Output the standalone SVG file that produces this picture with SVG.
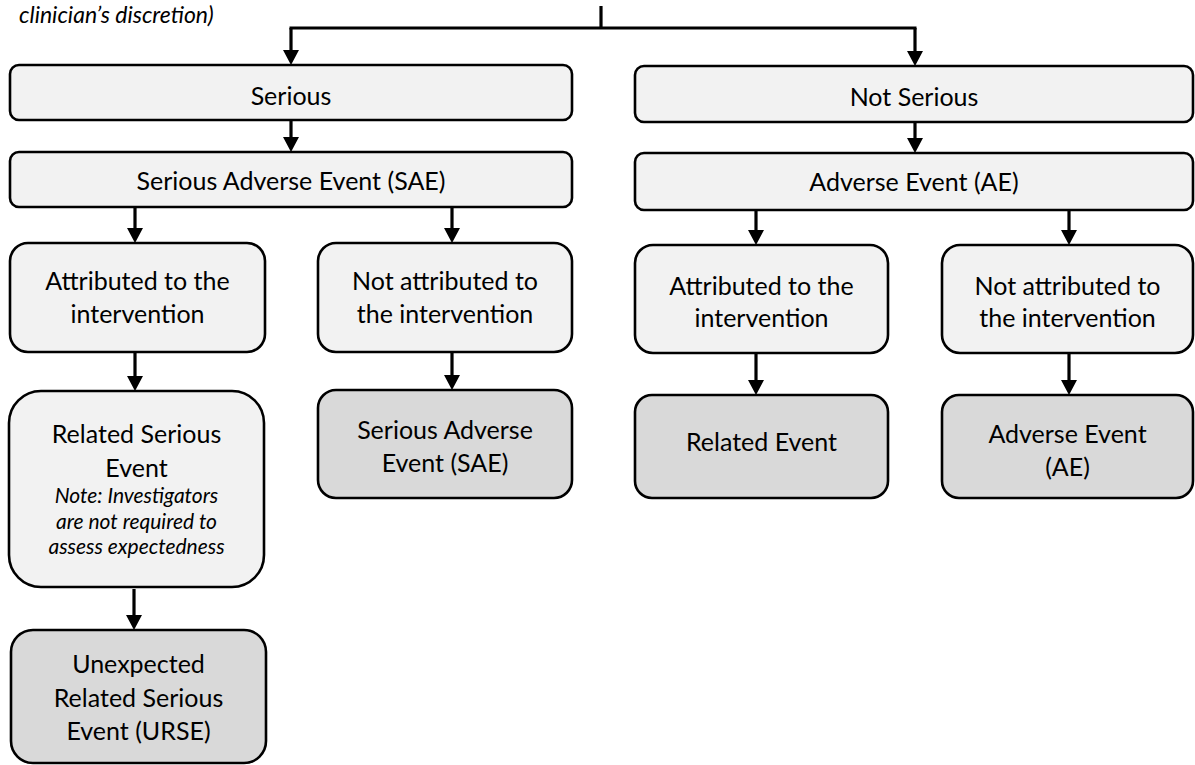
<svg xmlns="http://www.w3.org/2000/svg" width="1195" height="765" viewBox="0 0 1195 765">
<style>
  .box { stroke: #000; stroke-width: 2.6; }
  .light { fill: #f2f2f2; }
  .dark { fill: #d9d9d9; }
  .t { font-family: Lato, "Liberation Sans", sans-serif; font-size: 25px; fill: #000; text-anchor: middle; }
  .n { font-family: Lato, "Liberation Sans", sans-serif; font-size: 21px; font-style: italic; fill: #000; text-anchor: middle; }
  .tl { font-family: Lato, "Liberation Sans", sans-serif; font-size: 23px; font-style: italic; fill: #000; }
  .c { stroke: #000; stroke-width: 3.2; fill: none; }
</style>
<defs>
  <marker id="ah" viewBox="0 -8 15 16" markerWidth="15" markerHeight="16" refX="2" refY="0" orient="auto" markerUnits="userSpaceOnUse">
    <path d="M0,-8 L15,0 L0,8 z" fill="#000"/>
  </marker>
</defs>
<rect width="1195" height="765" fill="#fff"/>
<text class="tl" x="19" y="23">clinician’s discretion)</text>

<g id="connectors">
  <path class="c" d="M601,6 V28"/>
  <path class="c" d="M289.5,28 H916.5"/>
  <path class="c" d="M291,28 V52" marker-end="url(#ah)"/>
  <path class="c" d="M915,28 V53" marker-end="url(#ah)"/>
  <path class="c" d="M291,120 V139" marker-end="url(#ah)"/>
  <path class="c" d="M915,122 V140" marker-end="url(#ah)"/>
  <path class="c" d="M135,207 V230" marker-end="url(#ah)"/>
  <path class="c" d="M452,207 V230" marker-end="url(#ah)"/>
  <path class="c" d="M756,210 V232" marker-end="url(#ah)"/>
  <path class="c" d="M1069,210 V232" marker-end="url(#ah)"/>
  <path class="c" d="M135,352 V378" marker-end="url(#ah)"/>
  <path class="c" d="M452,352 V377" marker-end="url(#ah)"/>
  <path class="c" d="M756,353 V382" marker-end="url(#ah)"/>
  <path class="c" d="M1069,353 V382" marker-end="url(#ah)"/>
  <path class="c" d="M134,589 V617" marker-end="url(#ah)"/>
</g>

<g id="serious">
  <rect class="box light" x="10" y="65" width="562" height="55" rx="9"/>
  <text class="t" x="291" y="105">Serious</text>
</g>
<g id="sae">
  <rect class="box light" x="10" y="152" width="562" height="55" rx="9"/>
  <text class="t" x="291" y="190">Serious Adverse Event (SAE)</text>
</g>
<g id="not-serious">
  <rect class="box light" x="635" y="66" width="558" height="56" rx="9"/>
  <text class="t" x="914" y="106">Not Serious</text>
</g>
<g id="ae">
  <rect class="box light" x="635" y="153" width="558" height="57" rx="9"/>
  <text class="t" x="914" y="191">Adverse Event (AE)</text>
</g>

<g id="attr-left">
  <rect class="box light" x="10" y="243" width="255" height="109" rx="18"/>
  <text class="t" x="137.5" y="290">Attributed to the</text>
  <text class="t" x="137.5" y="323">intervention</text>
</g>
<g id="notattr-left">
  <rect class="box light" x="318" y="243" width="254" height="109" rx="18"/>
  <text class="t" x="445" y="290">Not attributed to</text>
  <text class="t" x="445" y="323">the intervention</text>
</g>
<g id="related-serious">
  <rect class="box light" x="9" y="391" width="255" height="196" rx="32"/>
  <text class="t" x="136.5" y="443">Related Serious</text>
  <text class="t" x="136.5" y="477">Event</text>
  <text class="n" x="136.5" y="503">Note: Investigators</text>
  <text class="n" x="136.5" y="528.5">are not required to</text>
  <text class="n" x="136.5" y="554">assess expectedness</text>
</g>
<g id="sae-final">
  <rect class="box dark" x="318" y="390" width="254" height="108" rx="18"/>
  <text class="t" x="445" y="439">Serious Adverse</text>
  <text class="t" x="445" y="472">Event (SAE)</text>
</g>
<g id="urse">
  <rect class="box dark" x="11" y="630" width="255" height="133" rx="22"/>
  <text class="t" x="138.5" y="673">Unexpected</text>
  <text class="t" x="138.5" y="707">Related Serious</text>
  <text class="t" x="138.5" y="740">Event (URSE)</text>
</g>

<g id="attr-right">
  <rect class="box light" x="635" y="245" width="253" height="108" rx="18"/>
  <text class="t" x="761.5" y="295">Attributed to the</text>
  <text class="t" x="761.5" y="327">intervention</text>
</g>
<g id="notattr-right">
  <rect class="box light" x="942" y="245" width="251" height="108" rx="18"/>
  <text class="t" x="1067.5" y="295">Not attributed to</text>
  <text class="t" x="1067.5" y="327">the intervention</text>
</g>
<g id="related-event">
  <rect class="box dark" x="635" y="395" width="253" height="103" rx="17"/>
  <text class="t" x="761.5" y="451">Related Event</text>
</g>
<g id="ae-final">
  <rect class="box dark" x="942" y="395" width="251" height="103" rx="17"/>
  <text class="t" x="1067.5" y="443">Adverse Event</text>
  <text class="t" x="1067.5" y="476">(AE)</text>
</g>
</svg>
